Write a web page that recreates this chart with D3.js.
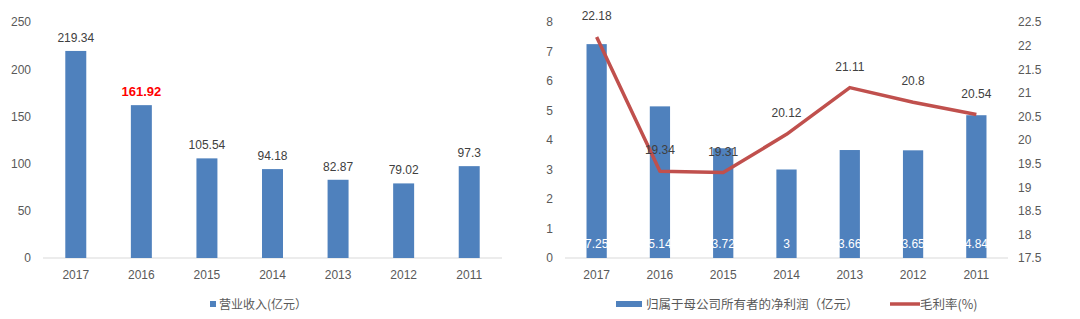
<!DOCTYPE html>
<html>
<head>
<meta charset="utf-8">
<script src="https://cdn.jsdelivr.net/npm/d3@7"></script>
<style>
  body { margin: 0; background: #fff; }
  svg text { font-family: "Liberation Sans", "Noto Sans CJK SC", sans-serif; fill: #595959; }
  .cjk { font-family: "Noto Sans CJK SC", sans-serif; }
</style>
</head>
<body>
<svg id="chart" width="1080" height="319"></svg>
<script>
  // data
  const years = ["2017", "2016", "2015", "2014", "2013", "2012", "2011"]
  const revenue = [219.34, 161.92, 105.54, 94.18, 82.87, 79.02, 97.3]
  const netProfit = [7.25, 5.14, 3.72, 3, 3.66, 3.65, 4.84]
  const grossMargin = [22.18, 19.34, 19.31, 20.12, 21.11, 20.8, 20.54]

  const revTicks = [0, 50, 100, 150, 200, 250]
  const profitTicks = [0, 1, 2, 3, 4, 5, 6, 7, 8]
  const marginTicks = [17.5, 18, 18.5, 19, 19.5, 20, 20.5, 21, 21.5, 22, 22.5]

  const blue = "#4F81BD"
  const red = "#C0504D"
  const axisColor = "#D9D9D9"

  const svg = d3.select("#chart")

  const yTop = 22, yBottom = 258

  // ---- left chart: revenue ----
  let x1 = d3.scaleBand().domain(years).range([43, 502]).paddingInner(0.68).paddingOuter(0.34)
  let y1 = d3.scaleLinear().domain([0, 250]).range([yBottom, yTop])

  const left = svg.append("g")

  left.append("line").attr("x1", 43).attr("x2", 502)
      .attr("y1", y1(0)).attr("y2", y1(0))
      .attr("stroke", axisColor).attr("stroke-width", 1)

  let yAxis1 = d3.axisLeft(y1).tickValues(revTicks).tickSize(0).tickPadding(0)
  left.append("g").attr("transform", "translate(31,0)").call(yAxis1)
      .call(g => g.select(".domain").remove())
      .selectAll("text").style("font-size", "12px").attr("fill", "#595959")

  let xAxis1 = d3.axisBottom(x1).tickSize(0).tickPadding(12)
  left.append("g").attr("transform", `translate(0,${y1(0)})`).call(xAxis1)
      .call(g => g.select(".domain").remove())
      .selectAll("text").style("font-size", "12px").attr("fill", "#595959")

  left.selectAll("rect.rev").data(revenue).join("rect")
      .attr("class", "rev")
      .attr("x", (d, i) => x1(years[i]))
      .attr("width", x1.bandwidth())
      .attr("y", d => y1(d))
      .attr("height", d => y1(0) - y1(d))
      .attr("fill", blue)

  left.selectAll("text.revlab").data(revenue).join("text")
      .attr("class", "revlab")
      .attr("x", (d, i) => x1(years[i]) + x1.bandwidth() / 2)
      .attr("y", d => y1(d) - 9)
      .attr("text-anchor", "middle")
      .style("font-size", (d, i) => i == 1 ? "13px" : "12px")
      .style("font-weight", (d, i) => i == 1 ? "bold" : "normal")
      .style("fill", (d, i) => i == 1 ? "#FF0000" : "#404040")
      .text(d => d)

  // legend
  left.append("rect").attr("x", 210).attr("y", 301).attr("width", 6).attr("height", 6).attr("fill", blue)
  left.append("text").attr("class", "cjk").attr("x", 219).attr("y", 309)
      .style("font-size", "12px").text("营业收入(亿元）")

  // ---- right chart: net profit + gross margin ----
  let x2 = d3.scaleBand().domain(years).range([565, 1008]).paddingInner(0.68).paddingOuter(0.34)
  let y2 = d3.scaleLinear().domain([0, 8]).range([yBottom, yTop])
  let y3 = d3.scaleLinear().domain([17.5, 22.5]).range([yBottom, yTop])

  const right = svg.append("g")

  right.append("line").attr("x1", 565).attr("x2", 1008)
      .attr("y1", y2(0)).attr("y2", y2(0))
      .attr("stroke", axisColor).attr("stroke-width", 1)

  let yAxis2 = d3.axisLeft(y2).tickValues(profitTicks).tickSize(0).tickPadding(0)
  right.append("g").attr("transform", "translate(553,0)").call(yAxis2)
      .call(g => g.select(".domain").remove())
      .selectAll("text").style("font-size", "12px").attr("fill", "#595959")

  let yAxis3 = d3.axisRight(y3).tickValues(marginTicks).tickFormat(d => String(d)).tickSize(0).tickPadding(0)
  right.append("g").attr("transform", "translate(1018,0)").call(yAxis3)
      .call(g => g.select(".domain").remove())
      .selectAll("text").style("font-size", "12px").attr("fill", "#595959")

  let xAxis2 = d3.axisBottom(x2).tickSize(0).tickPadding(12)
  right.append("g").attr("transform", `translate(0,${y2(0)})`).call(xAxis2)
      .call(g => g.select(".domain").remove())
      .selectAll("text").style("font-size", "12px").attr("fill", "#595959")

  right.selectAll("rect.np").data(netProfit).join("rect")
      .attr("class", "np")
      .attr("x", (d, i) => x2(years[i]))
      .attr("width", x2.bandwidth())
      .attr("y", d => y2(d))
      .attr("height", d => y2(0) - y2(d))
      .attr("fill", blue)

  right.selectAll("text.nplab").data(netProfit).join("text")
      .attr("class", "nplab")
      .attr("x", (d, i) => x2(years[i]) + x2.bandwidth() / 2)
      .attr("y", y2(0) - 10)
      .attr("text-anchor", "middle")
      .style("font-size", "12px")
      .style("fill", "#fff")
      .text(d => d)

  let line = d3.line()
      .x((d, i) => x2(years[i]) + x2.bandwidth() / 2)
      .y(d => y3(d))

  right.append("path").datum(grossMargin)
      .attr("d", line)
      .attr("fill", "none")
      .attr("stroke", red)
      .attr("stroke-width", 3.5)
      .attr("stroke-linejoin", "round")

  right.selectAll("text.gmlab").data(grossMargin).join("text")
      .attr("class", "gmlab")
      .attr("x", (d, i) => x2(years[i]) + x2.bandwidth() / 2)
      .attr("y", d => y3(d) - 17)
      .attr("text-anchor", "middle")
      .style("font-size", "12px")
      .style("fill", "#404040")
      .text(d => d)

  // legend
  right.append("rect").attr("x", 616).attr("y", 301).attr("width", 26).attr("height", 6).attr("fill", blue)
  right.append("text").attr("class", "cjk").attr("x", 646).attr("y", 309)
      .style("font-size", "12.5px").text("归属于母公司所有者的净利润（亿元）")
  right.append("line").attr("x1", 890).attr("x2", 920).attr("y1", 304).attr("y2", 304)
      .attr("stroke", red).attr("stroke-width", 3.5)
  right.append("text").attr("class", "cjk").attr("x", 920).attr("y", 309)
      .style("font-size", "12.5px").text("毛利率(%)")
</script>
</body>
</html>
